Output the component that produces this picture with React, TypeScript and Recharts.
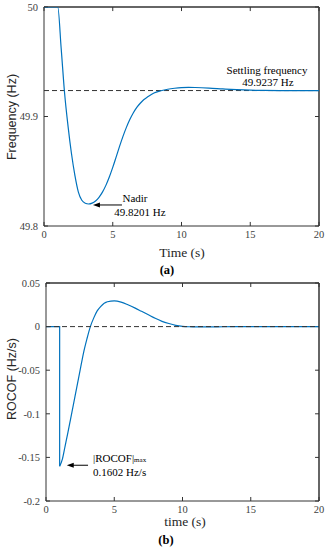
import React from "react";
import { LineChart, Line, XAxis, YAxis, ReferenceLine } from "recharts";

// frequency response (a)
const freqTime = [0, 0.5, 1.0, 1.25, 1.5, 1.75, 2.0, 2.25, 2.5, 2.75, 3.0, 3.25, 3.5, 3.75, 4.0, 4.25, 4.5, 4.75, 5.0, 5.25, 5.5, 5.75, 6.0, 6.25, 6.5, 6.75, 7.0, 7.25, 7.5, 8.0, 8.5, 9.0, 9.5, 10.0, 10.5, 11, 12, 13, 14, 15, 16, 18, 20];
const freqValues = [50, 50, 50, 49.962, 49.921, 49.891, 49.866, 49.846, 49.831, 49.8235, 49.8208, 49.8201, 49.8209, 49.8229, 49.8262, 49.8309, 49.8371, 49.8447, 49.8535, 49.8631, 49.8729, 49.8821, 49.8903, 49.8974, 49.9034, 49.9083, 49.9121, 49.9153, 49.9175, 49.9215, 49.9235, 49.9249, 49.9258, 49.9264, 49.9266, 49.9265, 49.926, 49.9252, 49.9245, 49.924, 49.9238, 49.9237, 49.9237];
const settlingFreq = 49.9237;
const nadirFreq = 49.8201;

// ROCOF (b)
const stepTime = [0, 1, 1];
const stepValues = [0, 0, -0.1602];
const rocofTime = [1.0, 1.2, 1.4, 1.6, 1.8, 2.0, 2.25, 2.5, 2.75, 3.0, 3.25, 3.5, 3.75, 4.0, 4.5, 5.0, 5.5, 6.0, 6.5, 7.0, 7.5, 8.0, 8.5, 9.0, 9.5, 10.0, 10.5, 11, 12, 13, 15, 20];
const rocofValues = [-0.1602, -0.152, -0.137, -0.122, -0.106, -0.09, -0.07, -0.05, -0.03, -0.014, 0, 0.01, 0.018, 0.023, 0.0285, 0.0294, 0.028, 0.025, 0.0215, 0.0175, 0.0135, 0.0095, 0.006, 0.0035, 0.0015, 0.0003, -0.0002, -0.0004, -0.0003, -0.0002, 0, 0];
const rocofMax = -0.1602;

const timeTicks = [0, 5, 10, 15, 20];
const freqTicks = [49.8, 49.9, 50];
const rocofTicks = [-0.2, -0.15, -0.1, -0.05, 0, 0.05];

const freqData = freqTime.map((t, i) => ({ t, f: freqValues[i] }));
const stepData = stepTime.map((t, i) => ({ t, r: stepValues[i] }));
const rocofData = rocofTime.map((t, i) => ({ t, r: rocofValues[i] }));

const SERIF = "Liberation Serif, DejaVu Serif, serif";
const SANS = "Liberation Sans, Arial, sans-serif";
const AXIS = "#333333";
const BLUE = "#0072BD";
const tickStyle = { fontSize: 10.5, fill: "#404040", fontFamily: SERIF };
const TX = 0.29; // inward tick length along time, 4px

const Arrow = (props: any) => {
  const { x1, y1, x2, y2 } = props;
  return (
    <g>
      <line x1={x1 + 6} y1={y1} x2={x2} y2={y2} stroke="#000" strokeWidth={1} />
      <polygon points={`${x1},${y1} ${x1 + 7},${y1 - 2.5} ${x1 + 7},${y1 + 2.5}`} fill="#000" />
    </g>
  );
};

const Txt = ({ x, y, children, style }: any) => (
  <div
    style={{
      position: "absolute",
      left: x,
      top: y,
      transform: "translate(-50%, -50%)",
      whiteSpace: "nowrap",
      lineHeight: 1,
      fontFamily: SERIF,
      fontSize: 11,
      color: "#000",
      ...style,
    }}
  >
    {children}
  </div>
);

export default function App() {
  return (
    <div style={{ position: "absolute", left: 0, top: 0, width: 332, height: 550, background: "#fff" }}>
      <LineChart width={332} height={275} margin={{ top: 7, right: 13, bottom: 0, left: 0 }}>
        <XAxis dataKey="t" type="number" domain={[0, 20]} ticks={timeTicks} height={49} tickLine={false} tickSize={0} tickMargin={5} tick={tickStyle} stroke={AXIS} />
        <YAxis type="number" domain={[49.8, 50]} ticks={freqTicks} allowDataOverflow width={44} tickLine={false} tickSize={0} tickMargin={6} tick={tickStyle} stroke={AXIS} />
        <ReferenceLine y={50} stroke="#333" strokeWidth={1.5} ifOverflow="visible" />
        <ReferenceLine x={20} stroke="#333" strokeWidth={1.5} ifOverflow="visible" />
        {timeTicks.map((t) => (
          <ReferenceLine key={`tt${t}`} segment={[{ x: t, y: 50 }, { x: t, y: 49.9963 }]} stroke="#333" strokeWidth={1} ifOverflow="visible" />
        ))}
        {timeTicks.map((t) => (
          <ReferenceLine key={`bt${t}`} segment={[{ x: t, y: 49.8 }, { x: t, y: 49.8037 }]} stroke="#333" strokeWidth={1} ifOverflow="visible" />
        ))}
        {freqTicks.map((v) => (
          <ReferenceLine key={`rt${v}`} segment={[{ x: 20, y: v }, { x: 20 - TX, y: v }]} stroke="#333" strokeWidth={1} ifOverflow="visible" />
        ))}
        {freqTicks.map((v) => (
          <ReferenceLine key={`lt${v}`} segment={[{ x: 0, y: v }, { x: TX, y: v }]} stroke="#333" strokeWidth={1} ifOverflow="visible" />
        ))}
        <ReferenceLine y={settlingFreq} stroke="#333" strokeDasharray="5 3" strokeWidth={1} />
        <Line data={freqData} dataKey="f" type="monotone" dot={false} stroke={BLUE} strokeWidth={1.2} isAnimationActive={false} />
        <ReferenceLine segment={[{ x: 3.56, y: nadirFreq - 0.0009 }, { x: 5.67, y: nadirFreq - 0.0009 }]} shape={Arrow} />
      </LineChart>
      <Txt x={12} y={117} style={{ fontFamily: SANS, fontSize: 12.5, color: "#262626", transform: "translate(-50%, -50%) rotate(-90deg)" }}>Frequency (Hz)</Txt>
      <Txt x={182} y={253} style={{ fontSize: 13.5, color: "#262626" }}>Time (s)</Txt>
      <Txt x={267} y={70}>Settling frequency</Txt>
      <Txt x={268} y={82}>49.9237 Hz</Txt>
      <Txt x={135} y={198}>Nadir</Txt>
      <Txt x={140} y={212}>49.8201 Hz</Txt>
      <Txt x={167} y={270} style={{ fontSize: 12.5, fontWeight: "bold" }}>(a)</Txt>

      <div style={{ position: "absolute", left: 0, top: 275 }}>
        <LineChart width={332} height={275} margin={{ top: 8, right: 13, bottom: 0, left: 0 }}>
          <XAxis dataKey="t" type="number" domain={[0, 20]} ticks={timeTicks} height={49} tickLine={false} tickSize={0} tickMargin={5} tick={tickStyle} stroke={AXIS} />
          <YAxis type="number" domain={[-0.2, 0.05]} ticks={rocofTicks} allowDataOverflow width={46} tickLine={false} tickSize={0} tickMargin={6} tick={tickStyle} stroke={AXIS} />
          <ReferenceLine y={0.05} stroke="#333" strokeWidth={1.5} ifOverflow="visible" />
          <ReferenceLine x={20} stroke="#333" strokeWidth={1.5} ifOverflow="visible" />
          {timeTicks.map((t) => (
            <ReferenceLine key={`tt${t}`} segment={[{ x: t, y: 0.05 }, { x: t, y: 0.0454 }]} stroke="#333" strokeWidth={1} ifOverflow="visible" />
          ))}
          {timeTicks.map((t) => (
            <ReferenceLine key={`bt${t}`} segment={[{ x: t, y: -0.2 }, { x: t, y: -0.1954 }]} stroke="#333" strokeWidth={1} ifOverflow="visible" />
          ))}
          {rocofTicks.map((v) => (
            <ReferenceLine key={`rt${v}`} segment={[{ x: 20, y: v }, { x: 20 - TX, y: v }]} stroke="#333" strokeWidth={1} ifOverflow="visible" />
          ))}
          {rocofTicks.map((v) => (
            <ReferenceLine key={`lt${v}`} segment={[{ x: 0, y: v }, { x: TX, y: v }]} stroke="#333" strokeWidth={1} ifOverflow="visible" />
          ))}
          <Line data={stepData} dataKey="r" type="linear" dot={false} stroke={BLUE} strokeWidth={1.2} isAnimationActive={false} />
          <Line data={rocofData} dataKey="r" type="monotone" dot={false} stroke={BLUE} strokeWidth={1.2} isAnimationActive={false} />
          <ReferenceLine y={0} stroke="#333" strokeDasharray="5 3" strokeWidth={1} />
          <ReferenceLine segment={[{ x: 1.52, y: rocofMax + 0.0012 }, { x: 3.08, y: rocofMax + 0.0012 }]} shape={Arrow} />
        </LineChart>
      </div>
      <Txt x={12} y={379} style={{ fontFamily: SANS, fontSize: 12.5, color: "#262626", transform: "translate(-50%, -50%) rotate(-90deg)" }}>ROCOF (Hz/s)</Txt>
      <Txt x={185} y={522} style={{ fontSize: 13.5, color: "#262626" }}>time (s)</Txt>
      <div style={{ position: "absolute", left: 93, top: 452, fontFamily: SERIF, fontSize: 11, lineHeight: "12px", whiteSpace: "nowrap" }}>
        <div>|ROCOF|<span style={{ fontSize: 7 }}>max</span></div>
        <div>0.1602 Hz/s</div>
      </div>
      <Txt x={166} y={540} style={{ fontSize: 12.5, fontWeight: "bold" }}>(b)</Txt>
    </div>
  );
}
